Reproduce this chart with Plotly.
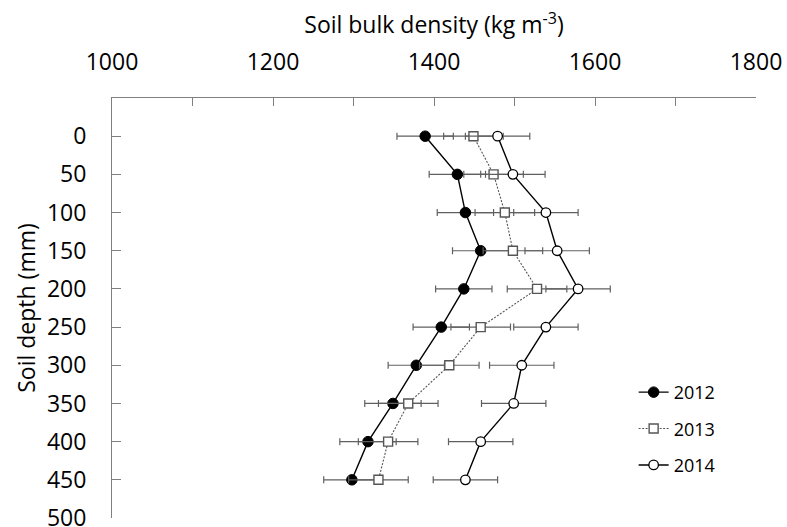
import plotly.graph_objects as go

depth = [0, 50, 100, 150, 200, 250, 300, 350, 400, 450]
bd_2012 = [1389, 1429, 1439, 1458, 1437, 1409, 1378, 1349, 1318, 1298]
bd_2013 = [1449, 1474, 1488, 1498, 1528, 1458, 1419, 1368, 1343, 1331]
bd_2014 = [1479, 1498, 1539, 1553, 1579, 1539, 1509, 1499, 1458, 1439]
err_2012 = [35] * 10
err_2013 = [37] * 10
err_2014 = [40] * 10

FONT = "Open Sans"
AX = "#7f7f7f"
ERRC = "#606060"

fig = go.Figure()

fig.add_trace(go.Scatter(
    x=bd_2012, y=depth, name="2012", mode="lines+markers", legendgroup="a",
    line=dict(color="black", width=1.4),
    marker=dict(symbol="circle", size=10.5, color="black", line=dict(color="black", width=1)),
    error_x=dict(type="data", array=err_2012, color=ERRC, thickness=1.2, width=3.5),
))
fig.add_trace(go.Scatter(
    x=bd_2013, y=depth, name="2013", mode="lines+markers", legendgroup="b",
    line=dict(color="#555555", width=1.1, dash="2px,1.5px"),
    marker=dict(symbol="square", size=9, color="white", line=dict(color="#555555", width=1.4)),
    error_x=dict(type="data", array=err_2013, color=ERRC, thickness=1.2, width=3.5),
))
fig.add_trace(go.Scatter(
    x=bd_2014, y=depth, name="2014", mode="lines+markers", legendgroup="c",
    line=dict(color="black", width=1.4),
    marker=dict(symbol="circle", size=9.5, color="white", line=dict(color="black", width=1.3)),
    error_x=dict(type="data", array=err_2014, color=ERRC, thickness=1.2, width=3.5),
))

fig.update_layout(
    width=787, height=527,
    margin=dict(l=112, r=31, t=98, b=9),
    plot_bgcolor="white", paper_bgcolor="white",
    font=dict(family=FONT, size=23, color="black"),
    showlegend=True,
    legend=dict(
        x=0.81, y=0.343, xanchor="left", yanchor="top",
        font=dict(family=FONT, size=18, color="black"),
        tracegroupgap=10, traceorder="grouped",
        bgcolor="rgba(0,0,0,0)", itemwidth=30,
    ),
    xaxis=dict(
        side="top", range=[1000, 1800], dtick=200, tick0=1000,
        automargin=False,
        showgrid=False, zeroline=False,
        showline=True, linecolor=AX, linewidth=1, mirror=False,
        ticks="inside", ticklen=8, tickcolor=AX, tickwidth=1,
        minor=dict(dtick=100, ticks="inside", ticklen=8, tickcolor=AX, tickwidth=1, showgrid=False),
        ticklabelstandoff=18, ticklabeloverflow="allow",
        tickfont=dict(family=FONT, size=23),
        title=dict(text="Soil bulk density (kg m<sup>-3</sup>)", font=dict(family=FONT, size=23), standoff=4),
    ),
    yaxis=dict(
        range=[500, -50], tickvals=[0, 50, 100, 150, 200, 250, 300, 350, 400, 450, 500],
        automargin=False,
        showgrid=False, zeroline=False,
        showline=True, linecolor=AX, linewidth=1, mirror=False,
        ticks="inside", ticklen=9, tickcolor=AX, tickwidth=1,
        ticklabelstandoff=20, ticklabeloverflow="allow",
        tickfont=dict(family=FONT, size=23),
        title=dict(text="Soil depth (mm)", font=dict(family=FONT, size=23), standoff=4),
    ),
)

fig.write_html("out.html")
